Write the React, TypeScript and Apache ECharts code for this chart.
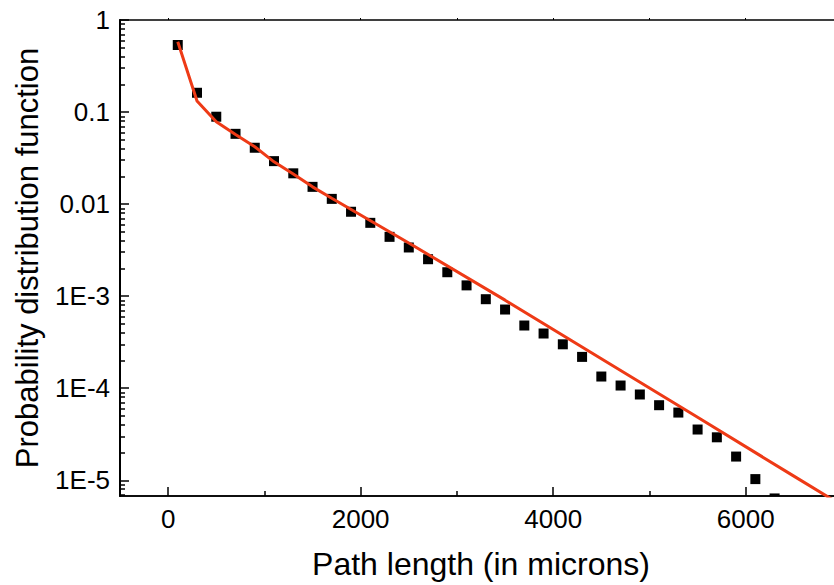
import React, { useEffect, useRef } from "react";
import * as echarts from "echarts";

const pathLength = [100, 300, 500, 700, 900, 1100, 1300, 1500, 1700, 1900, 2100, 2300, 2500, 2700, 2900, 3100, 3300, 3500, 3700, 3900, 4100, 4300, 4500, 4700, 4900, 5100, 5300, 5500, 5700, 5900, 6100, 6300];
const pdfMeasured = [0.535, 0.162, 0.089, 0.058, 0.041, 0.0293, 0.0216, 0.0154, 0.0114, 0.00826, 0.00626, 0.00441, 0.00338, 0.00252, 0.00182, 0.00131, 9.27e-4, 7.16e-4, 4.8e-4, 3.93e-4, 3.0e-4, 2.19e-4, 1.34e-4, 1.07e-4, 8.55e-5, 6.54e-5, 5.44e-5, 3.56e-5, 2.93e-5, 1.81e-5, 1.03e-5, 6.35e-6];

const fitLength = [100, 300, 500, 700, 900, 1100, 1300, 1500, 1700, 2500, 3500, 4500, 5500, 6500, 6900];
const fitPdf = [0.58, 0.132, 0.0785, 0.057, 0.042, 0.0288, 0.0212, 0.0154, 0.0116, 0.00378, 9.05e-4, 2.09e-4, 4.83e-5, 1.11e-5, 6.18e-6];

const xMajorTicks = [0, 2000, 4000, 6000];
const xTickLabels = ["0", "2000", "4000", "6000"];
const xMinorTicks = [1000, 3000, 5000];
const xTopTicks = [0, 1000, 2000, 3000, 4000, 5000, 6000, 7000];
const yMajorTicks = [1e-5, 1e-4, 1e-3, 0.01, 0.1, 1];
const yTickLabels = ["1E-5", "1E-4", "1E-3", "0.01", "0.1", "1"];
const yMinorTicks: number[] = [];
[1e-6, 1e-5, 1e-4, 1e-3, 0.01, 0.1].forEach((d) => {
  [2, 3, 4, 5, 6, 7, 8, 9].forEach((m) => yMinorTicks.push(m * d));
});

const FONT = "'Liberation Sans', Arial, sans-serif";
const X_MIN = -500;
const X_MAX = 7000;
const Y_MIN = 6.75e-6;
const Y_MAX = 1;

export default function App() {
  const ref = useRef<HTMLDivElement>(null);
  useEffect(() => {
    if (!ref.current) return;
    document.body.style.overflow = "hidden";
    const chart = echarts.init(ref.current, undefined, { renderer: "svg" });
    const yLabel = (v: number) => {
      const i = yMajorTicks.findIndex((t) => Math.abs(Math.log10(t) - Math.log10(v)) < 1e-6);
      return i >= 0 ? yTickLabels[i] : "";
    };
    const xLabel = (v: number) => {
      const i = xMajorTicks.findIndex((t) => Math.abs(t - v) < 1e-6);
      return i >= 0 ? xTickLabels[i] : "";
    };
    chart.setOption({
      animation: false,
      grid: {
        left: 120,
        top: 20,
        right: 8,
        bottom: 89,
        show: true,
        borderColor: "#000",
        borderWidth: 1.5,
        backgroundColor: "transparent",
      },
      xAxis: [
        {
          type: "value",
          min: X_MIN,
          max: X_MAX,
          position: "bottom",
          name: "Path length (in microns)",
          nameLocation: "middle",
          nameGap: 52,
          nameTextStyle: { fontFamily: FONT, fontSize: 32, color: "#000" },
          axisLine: { show: true, onZero: false, lineStyle: { color: "#000", width: 1.5 } },
          axisTick: { show: true, inside: true, length: 9, customValues: xMajorTicks, lineStyle: { color: "#000", width: 1.5 } },
          axisLabel: {
            show: true,
            customValues: xMajorTicks,
            margin: 10,
            fontFamily: FONT,
            fontSize: 26,
            color: "#000",
            formatter: (v: number) => xLabel(v),
          },
          splitLine: { show: false },
        },
        {
          type: "value",
          min: X_MIN,
          max: X_MAX,
          position: "bottom",
          axisLine: { show: false, onZero: false },
          axisTick: { show: true, inside: true, length: 5, customValues: xMinorTicks, lineStyle: { color: "#000", width: 1.5 } },
          axisLabel: { show: false },
          splitLine: { show: false },
        },
        {
          type: "value",
          min: X_MIN,
          max: X_MAX,
          position: "top",
          axisLine: { show: false, onZero: false },
          axisTick: { show: true, inside: false, length: 2, customValues: xTopTicks, lineStyle: { color: "#000", width: 1 } },
          axisLabel: { show: false },
          splitLine: { show: false },
        },
      ],
      yAxis: [
        {
          type: "log",
          logBase: 10,
          min: Y_MIN,
          max: Y_MAX,
          position: "left",
          name: "Probability distribution function",
          nameLocation: "middle",
          nameGap: 77,
          nameRotate: 90,
          nameTextStyle: { fontFamily: FONT, fontSize: 31, color: "#000" },
          axisLine: { show: true, onZero: false, lineStyle: { color: "#000", width: 2 } },
          axisTick: { show: true, inside: true, length: 9, customValues: yMajorTicks, lineStyle: { color: "#000", width: 1.5 } },
          axisLabel: {
            show: true,
            customValues: yMajorTicks,
            margin: 10,
            fontFamily: FONT,
            fontSize: 26,
            color: "#000",
            formatter: (v: number) => yLabel(v),
          },
          splitLine: { show: false },
        },
        {
          type: "log",
          logBase: 10,
          min: Y_MIN,
          max: Y_MAX,
          position: "left",
          axisLine: { show: false, onZero: false },
          axisTick: { show: true, inside: true, length: 5, customValues: yMinorTicks, lineStyle: { color: "#000", width: 1.5 } },
          axisLabel: { show: false },
          splitLine: { show: false },
        },
      ],
      series: [
        {
          type: "custom",
          name: "Measured",
          xAxisIndex: 0,
          yAxisIndex: 0,
          clip: true,
          data: pathLength.map((x, i) => [x, pdfMeasured[i]]),
          renderItem: (params: any, api: any) => {
            const p = api.coord([api.value(0), api.value(1)]);
            return {
              type: "rect",
              shape: { x: p[0] - 5, y: p[1] - 5, width: 10, height: 10 },
              style: { fill: "#000" },
            };
          },
          z: 2,
        },
        {
          type: "line",
          name: "Fit",
          xAxisIndex: 0,
          yAxisIndex: 0,
          data: fitLength.map((x, i) => [x, fitPdf[i]]),
          showSymbol: false,
          symbol: "none",
          clip: true,
          lineStyle: { color: "#EE3A16", width: 3 },
          z: 3,
        },
      ],
    });
    return () => chart.dispose();
  }, []);
  return (
    <div
      ref={ref}
      style={{ position: "fixed", left: 0, top: 0, width: 850, height: 585, background: "#fff" }}
    />
  );
}
